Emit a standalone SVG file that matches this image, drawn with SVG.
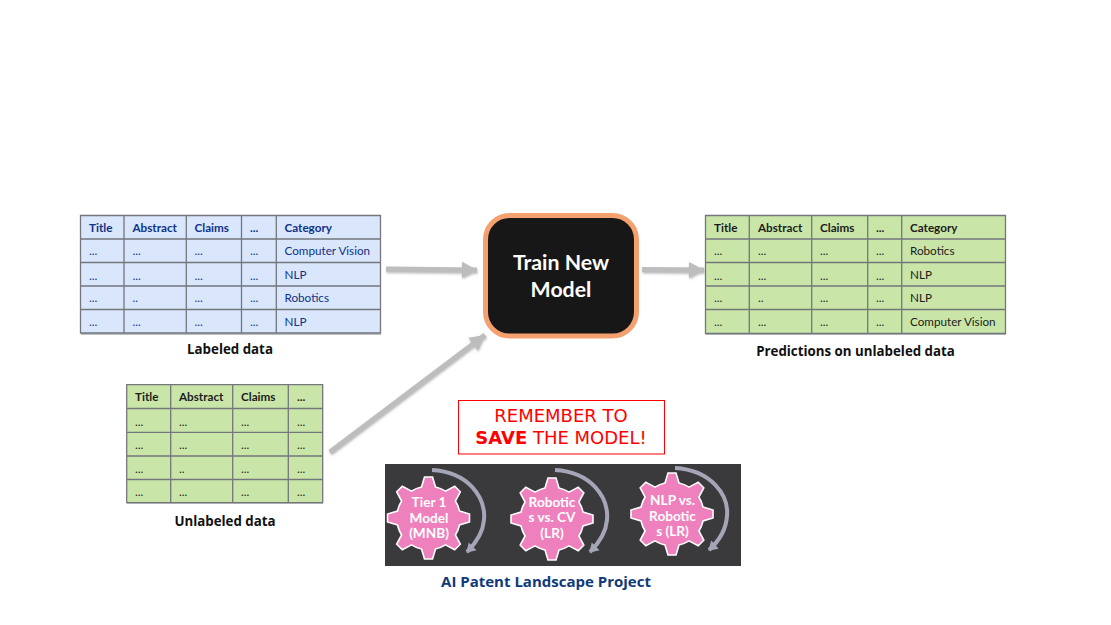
<svg xmlns="http://www.w3.org/2000/svg" width="1111" height="625" viewBox="0 0 1111 625">
<style>
text{font-family:Lato,"Noto Sans",sans-serif;font-size:11.7px}
.blue .bg{fill:#D9E6FB}.green .bg{fill:#C9E6A8}
.shadow{fill:#8a8a8a;opacity:.55}
.grid{fill:none;stroke:#73777d;stroke-width:1.3}
.blue text{fill:#10328A}.green text{fill:#1c1c1c}
.h{font-weight:700}
.cap{font-family:"Open Sans","Noto Sans",sans-serif;font-weight:700;font-size:13.3px;fill:#111;text-anchor:middle}
.conn{fill:none;stroke:#BDBDBD;stroke-width:5}
.gear{fill:#EF80BE;stroke:#fff;stroke-width:1.6}
.gt{fill:#fff;font-weight:700;font-size:13.6px;text-anchor:middle}
.arc{fill:none;stroke:#A5A5B8;stroke-width:4}
.rem{font-family:"DejaVu Sans",sans-serif;font-size:18px;fill:#f00;text-anchor:middle}
</style>
<defs>
<marker id="ah" markerUnits="userSpaceOnUse" markerWidth="20" markerHeight="20" refX="15" refY="9" orient="auto"><path d="M0 1L15 9L0 17Z" fill="#BDBDBD"/></marker>
<marker id="ag" markerUnits="userSpaceOnUse" markerWidth="14" markerHeight="14" refX="9" refY="7" orient="auto"><path d="M1 1.500L10 7L1 12.500Z" fill="#A5A5B8"/></marker>
<filter id="sh" x="-10%" y="-30%" width="120%" height="160%"><feDropShadow dx="0.5" dy="1.5" stdDeviation="1" flood-color="#888" flood-opacity=".6"/></filter>
<path id="g" class="gear" d="M31-7L41-4L41 4L31 7A31.800 31.800 0 0 1 26.900 17L31.800 26.200L26.200 31.800L17 26.900A31.800 31.800 0 0 1 7 31L4 41L-4 41L-7 31A31.800 31.800 0 0 1-17 26.900L-26.200 31.800L-31.800 26.200L-26.900 17A31.800 31.800 0 0 1-31 7L-41 4L-41-4L-31-7A31.800 31.800 0 0 1-26.900-17L-31.800-26.200L-26.200-31.800L-17-26.900A31.800 31.800 0 0 1-7-31L-4-41L4-41L7-31A31.800 31.800 0 0 1 17-26.900L26.200-31.800L31.800-26.200L26.900-17A31.800 31.800 0 0 1 31-7Z"/>
</defs>
<rect width="1111" height="625" fill="#fff"/>

<g id="connectors" filter="url(#sh)">
<line class="conn" x1="386" y1="269" x2="477" y2="270" marker-end="url(#ah)"/>
<line class="conn" x1="642" y1="269.500" x2="704" y2="270" marker-end="url(#ah)"/>
<line class="conn" x1="330" y1="452" x2="485" y2="335" marker-end="url(#ah)"/>
</g>

<g id="labeled-data" class="blue">
<rect class="shadow" x="81" y="217" width="300" height="118"/>
<rect class="bg" x="80.500" y="215.500" width="300" height="117.500"/>
<path class="grid" d="M80.500 215.500H380.500V333H80.500ZM80.500 239H380.500M80.500 262.500H380.500M80.500 286H380.500M80.500 309.500H380.500M124 215.500V333M186.300 215.500V333M241.500 215.500V333M276.300 215.500V333"/>
<text class="h" x="89" y="232">Title</text><text class="h" x="132.500" y="232">Abstract</text><text class="h" x="194.500" y="232">Claims</text><text class="h" x="250" y="232">...</text><text class="h" x="284.500" y="232">Category</text>
<text x="89" y="255">...</text><text x="132.500" y="255">...</text><text x="194.500" y="255">...</text><text x="250" y="255">...</text><text x="284.500" y="255">Computer Vision</text>
<text x="89" y="280">...</text><text x="132.500" y="280">...</text><text x="194.500" y="280">...</text><text x="250" y="280">...</text><text x="284.500" y="279">NLP</text>
<text x="89" y="302">...</text><text x="132.500" y="302">..</text><text x="194.500" y="302">...</text><text x="250" y="302">...</text><text x="284.500" y="302">Robotics</text>
<text x="89" y="326">...</text><text x="132.500" y="326">...</text><text x="194.500" y="326">...</text><text x="250" y="326">...</text><text x="284.500" y="326">NLP</text>
</g>
<text class="cap" x="230" y="353.500">Labeled data</text>

<g id="unlabeled-data" class="green">
<rect class="shadow" x="127" y="386" width="196" height="118"/>
<rect class="bg" x="126.700" y="384.700" width="196" height="118"/>
<path class="grid" d="M126.700 384.700H322.700V502.700H126.700ZM126.700 408.500H322.700M126.700 432.300H322.700M126.700 456H322.700M126.700 479.500H322.700M170.700 384.700V502.700M232.700 384.700V502.700M288.300 384.700V502.700"/>
<text class="h" x="135" y="401">Title</text><text class="h" x="179" y="401">Abstract</text><text class="h" x="241" y="401">Claims</text><text class="h" x="297" y="401">...</text>
<text x="135" y="426">...</text><text x="179" y="426">...</text><text x="241" y="426">...</text><text x="297" y="426">...</text>
<text x="135" y="449">...</text><text x="179" y="449">...</text><text x="241" y="449">...</text><text x="297" y="449">...</text>
<text x="135" y="473">...</text><text x="179" y="473">..</text><text x="241" y="473">...</text><text x="297" y="473">...</text>
<text x="135" y="496">...</text><text x="179" y="496">...</text><text x="241" y="496">...</text><text x="297" y="496">...</text>
</g>
<text class="cap" x="225" y="525.500">Unlabeled data</text>

<g id="train-new-model">
<rect x="485.500" y="215.500" width="151" height="120.500" rx="24" fill="#171717" stroke="#F4A06F" stroke-width="5"/>
<text x="561" y="270" text-anchor="middle" fill="#fff" font-weight="700" style="font-size:21.300px">Train New</text>
<text x="561" y="297" text-anchor="middle" fill="#fff" font-weight="700" style="font-size:21.300px">Model</text>
</g>

<g id="predictions" class="green">
<rect class="shadow" x="706" y="217" width="300" height="118"/>
<rect class="bg" x="705.500" y="215.500" width="300" height="118"/>
<path class="grid" d="M705.500 215.500H1005.500V333.500H705.500ZM705.500 239H1005.500M705.500 262.500H1005.500M705.500 286H1005.500M705.500 309.500H1005.500M749.300 215.500V333.500M811.700 215.500V333.500M867.700 215.500V333.500M901.700 215.500V333.500"/>
<text class="h" x="714" y="232">Title</text><text class="h" x="758" y="232">Abstract</text><text class="h" x="820" y="232">Claims</text><text class="h" x="876" y="232">...</text><text class="h" x="910" y="232">Category</text>
<text x="714" y="255">...</text><text x="758" y="255">...</text><text x="820" y="255">...</text><text x="876" y="255">...</text><text x="910" y="255">Robotics</text>
<text x="714" y="280">...</text><text x="758" y="280">...</text><text x="820" y="280">...</text><text x="876" y="280">...</text><text x="910" y="279">NLP</text>
<text x="714" y="302">...</text><text x="758" y="302">..</text><text x="820" y="302">...</text><text x="876" y="302">...</text><text x="910" y="302">NLP</text>
<text x="714" y="326">...</text><text x="758" y="326">...</text><text x="820" y="326">...</text><text x="876" y="326">...</text><text x="910" y="326">Computer Vision</text>
</g>
<text class="cap" x="855.500" y="355.500">Predictions on unlabeled data</text>

<g id="remember-note">
<rect x="458.500" y="400.500" width="206" height="53.500" fill="#fff" stroke="#f00" stroke-width="1"/>
<text class="rem" x="561" y="422">REMEMBER TO</text>
<text class="rem" x="561" y="444"><tspan font-weight="700">SAVE</tspan> THE MODEL!</text>
</g>

<g id="patent-project">
<rect x="385" y="464" width="356" height="102" fill="#3A3A3C"/>
<path class="arc" d="M432 470C468 472 486 497 484 520C483 532 476 543 467 552" marker-end="url(#ag)"/>
<path class="arc" d="M555 470C591 472 609 497 607 520C606 532 599 543 590 552" marker-end="url(#ag)"/>
<path class="arc" d="M675 468C711 470 729 495 727 516C726 530 719 541 709 550" marker-end="url(#ag)"/>
<g id="gear-1"><use href="#g" x="428.500" y="518"/><text class="gt" x="429" y="507">Tier 1</text><text class="gt" x="429" y="523">Model</text><text class="gt" x="429" y="538">(MNB)</text></g>
<g id="gear-2"><use href="#g" x="552" y="519"/><text class="gt" x="552" y="507">Robotic</text><text class="gt" x="552" y="522">s vs. CV</text><text class="gt" x="552" y="538">(LR)</text></g>
<g id="gear-3"><use href="#g" x="672" y="514"/><text class="gt" x="672.500" y="505">NLP vs.</text><text class="gt" x="672.500" y="521">Robotic</text><text class="gt" x="672.500" y="536">s (LR)</text></g>
</g>
<text x="546" y="586.500" text-anchor="middle" fill="#0F3A7A" style="font-family:'Open Sans','Noto Sans',sans-serif;font-weight:700;font-size:15px">AI Patent Landscape Project</text>
</svg>
